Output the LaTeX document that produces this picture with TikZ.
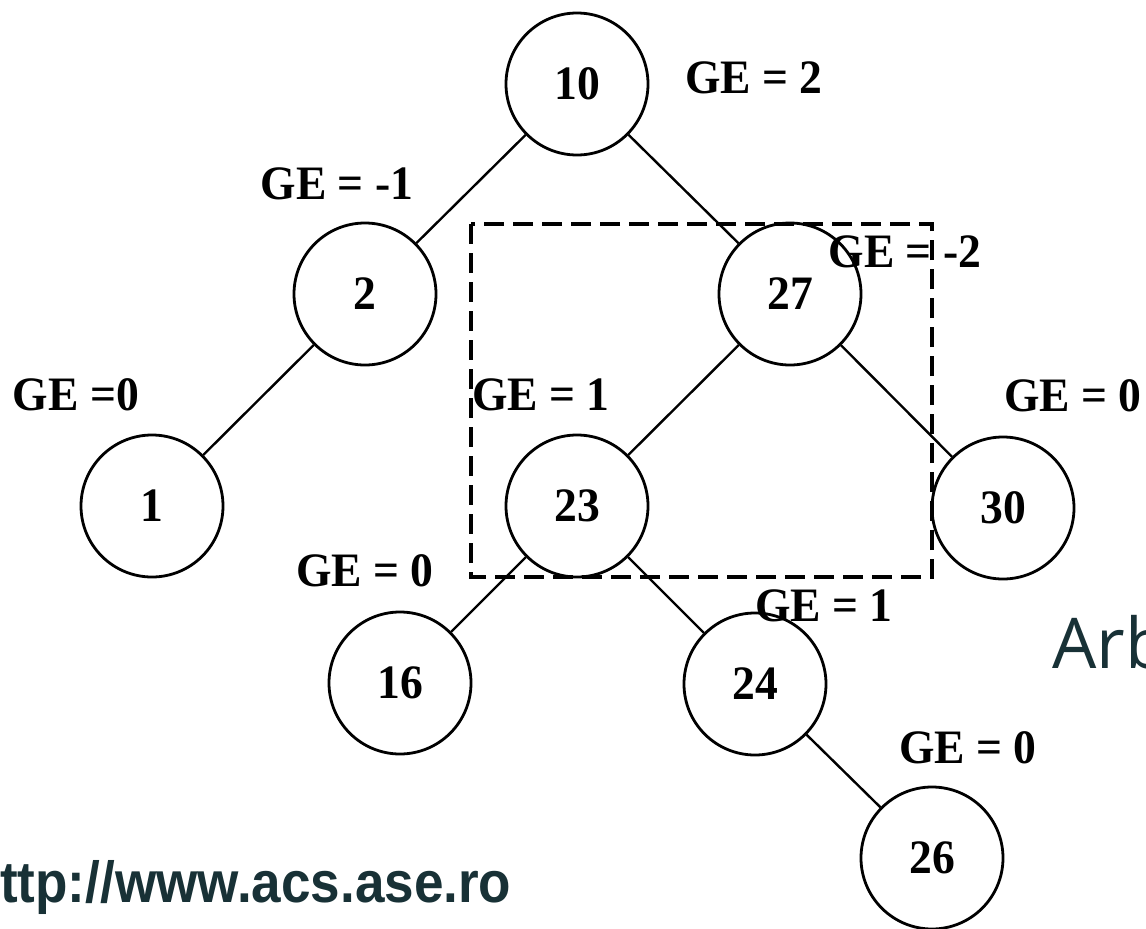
\documentclass[tikz,border=0pt]{standalone}
\usepackage{fontspec}
\setmainfont{Liberation Serif}
\newfontfamily\urlfont{Liberation Sans}
\newfontfamily\titlefont{Open Sans}
\definecolor{tealdark}{RGB}{24,49,54}
\tikzset{
  treenode/.style={circle, draw, line width=2.8pt, minimum size=142pt, inner sep=0pt},
  numtext/.style={inner sep=0pt, xscale=0.95, font=\fontsize{48}{48}\selectfont\bfseries},
  gelabel/.style={inner sep=0pt, xscale=0.95, font=\fontsize{48}{48}\selectfont\bfseries},
  treeedge/.style={line width=2.4pt},
  boxline/.style={line width=4pt, dash pattern=on 20pt off 9pt}
}
\begin{document}
\begin{tikzpicture}[x=1pt,y=-1pt]
\fill[white] (0,0) rectangle (1146,929);
\useasboundingbox (0,0) rectangle (1146,929);

% tree nodes
\node[treenode] (n10) at (577,84) {};
\node[treenode] (n2)  at (365,294) {};
\node[treenode] (n27) at (790,294) {};
\node[treenode] (n1)  at (152,506) {};
\node[treenode] (n23) at (577,506) {};
\node[treenode] (n30) at (1003,508) {};
\node[treenode] (n16) at (400,683) {};
\node[treenode] (n24) at (755,684) {};
\node[treenode] (n26) at (932,858) {};

% node keys
\node[numtext] (k10) at (n10.center) {10};
\node[numtext] (k2)  at (n2.center) {2};
\node[numtext] (k27) at (n27.center) {27};
\node[numtext] (k1)  at (n1.center) {1};
\node[numtext] (k23) at (n23.center) {23};
\node[numtext] (k30) at (n30.center) {30};
\node[numtext] (k16) at (n16.center) {16};
\node[numtext] (k24) at (n24.center) {24};
\node[numtext] (k26) at (n26.center) {26};

% edges
\draw[treeedge] (n10) -- (n2);
\draw[treeedge] (n10) -- (n27);
\draw[treeedge] (n2) -- (n1);
\draw[treeedge] (n27) -- (n23);
\draw[treeedge] (n27) -- (n30);
\draw[treeedge] (n23) -- (n16);
\draw[treeedge] (n23) -- (n24);
\draw[treeedge] (n24) -- (n26);

% dashed subtree box
\draw[boxline] (471,224) rectangle (932,577);

% balance labels
\node[gelabel] (g10) at (754,78) {GE = 2};
\node[gelabel] (g2)  at (337,184) {GE = -1};
\node[gelabel] (g27) at (905,252) {GE = -2};
\node[gelabel] (g1)  at (76,395) {GE =0};
\node[gelabel] (g23) at (541,395) {GE = 1};
\node[gelabel] (g30) at (1073,396) {GE = 0};
\node[gelabel] (g16) at (365,571) {GE = 0};
\node[gelabel] (g24) at (824,606) {GE = 1};
\node[gelabel] (g26) at (968,748) {GE = 0};

% slide texts
\node[anchor=base west, inner sep=0pt, text=tealdark, xscale=0.915,
  font=\urlfont\fontsize{58}{58}\selectfont\bfseries] (url) at (0,902) {ttp://www.acs.ase.ro};
\begin{scope}
\clip (0,0) rectangle (1146,929);
\node[anchor=base west, inner sep=0pt, text=tealdark,
  font=\titlefont\fontsize{70}{70}\selectfont] (arb) at (1052,668) {Arb};
\end{scope}
\end{tikzpicture}
\end{document}
